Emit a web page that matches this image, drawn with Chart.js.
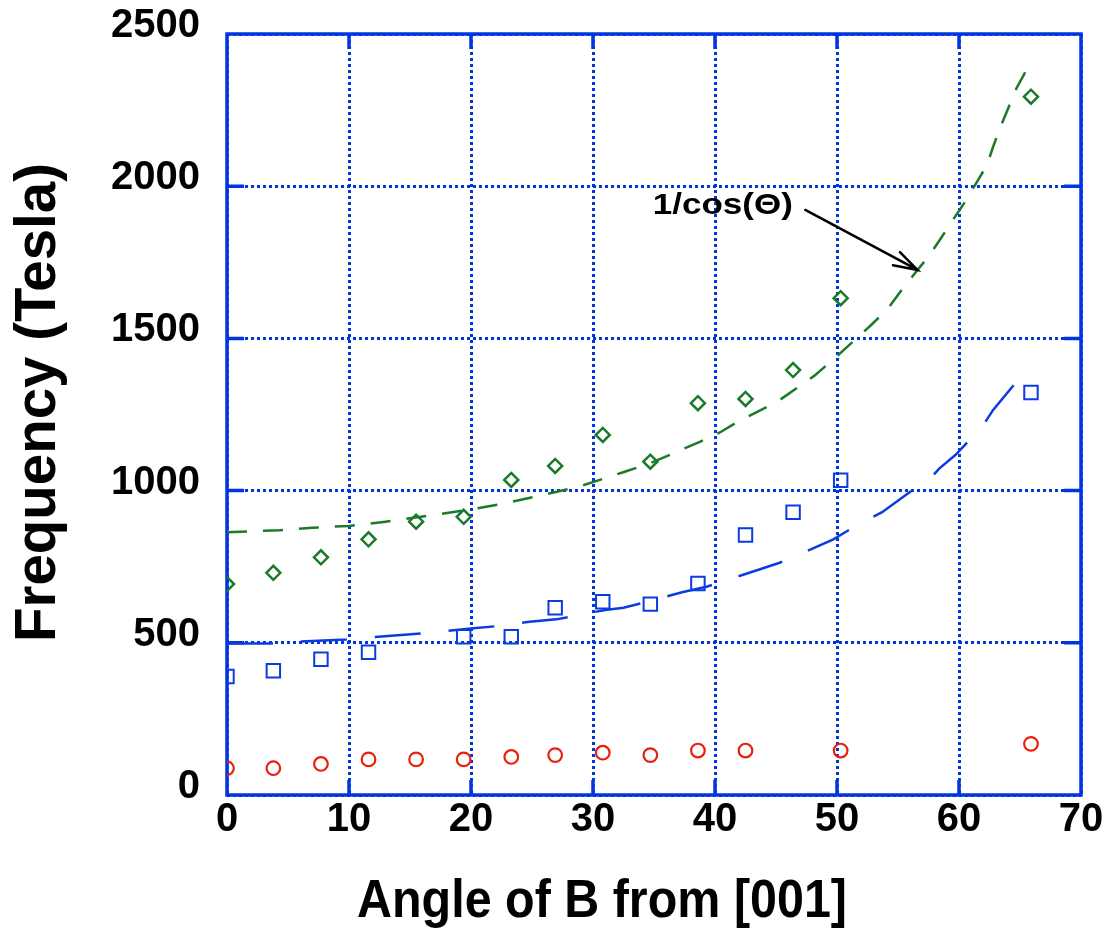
<!DOCTYPE html>
<html>
<head>
<meta charset="utf-8">
<title>Frequency vs angle of B</title>
<script src="https://cdn.jsdelivr.net/npm/chart.js@4.4.1/dist/chart.umd.min.js"></script>
<style>
  html, body { margin: 0; padding: 0; background: #fff; }
  #wrap { width: 1108px; height: 929px; }
</style>
</head>
<body>
<div id="wrap"><canvas id="freqChart"></canvas></div>
<script>
// values (angle in degrees, frequency in Tesla)
const redAngles = [0, 3.8, 7.7, 11.6, 15.5, 19.4, 23.3, 26.9, 30.8, 34.7, 38.6, 42.5, 50.3, 65.9];
const redFreq = [88, 88, 102, 117, 117, 117, 125, 131, 139, 131, 146, 146, 146, 168];

const blueAngles = [0, 3.8, 7.7, 11.6, 19.4, 23.3, 26.9, 30.8, 34.7, 38.6, 42.5, 46.4, 50.3, 65.9];
const blueFreq = [389, 408, 446, 469, 520, 520, 615, 635, 627, 695, 854, 929, 1034, 1322];

const greenAngles = [0, 3.8, 7.7, 11.6, 15.5, 19.4, 23.3, 26.9, 30.8, 34.7, 38.6, 42.5, 46.4, 50.3, 65.9];
const greenFreq = [693, 730, 781, 840, 898, 914, 1035, 1081, 1183, 1095, 1287, 1301, 1396, 1632, 2294];

// dashed 1/cos(theta) guide curves
const greenFitAngles = [0, 4.3, 7, 10, 13, 17, 20, 22.5, 26.5, 29, 32.6, 34.7, 38.8, 40.4, 41.9, 45.1, 48.1,
  49.8, 51.3, 52.8, 54.2, 55.3, 56.6, 57.6, 58.6, 59.5, 60.5, 61.4, 62.3, 62.8, 63.4, 64.2, 64.7, 65.3, 66];
const greenFitFreq = [863, 870, 878, 884, 898, 920, 938, 956, 991, 1015, 1062, 1090, 1161, 1191, 1227, 1292, 1376,
  1434, 1489, 1544, 1599, 1659, 1725, 1774, 1834, 1889, 1949, 2009, 2070, 2130, 2195, 2272, 2321, 2365, 2420];

const blueFitAngles = [0, 3.5, 6, 9.8, 12.4, 16.1, 20.2, 22.5, 24.8, 27, 28.8, 31, 32.5, 35, 37.3, 39.3, 41.2,
  43.5, 45.3, 47.4, 49.7, 51.9, 53.7, 56, 57.6, 58.4, 59.7, 61.9, 62.8, 64.6];
const blueFitFreq = [498, 498, 504, 511, 520, 531, 548, 556, 569, 577, 591, 608, 615, 641, 666, 684, 709,
  739, 763, 799, 840, 893, 929, 996, 1038, 1073, 1117, 1210, 1265, 1352];

const xTicks = [0, 10, 20, 30, 40, 50, 60, 70];
const yTicks = [0, 500, 1000, 1500, 2000, 2500];

// arrow label, in data units
const noteText = '1/cos(\u0398)';
const noteAt = { x: 34.9, y: 1909 };
const arrowFrom = { x: 47.4, y: 1922 };
const arrowTo = { x: 56.6, y: 1725 };

const FONT = "'Liberation Sans', Arial, Helvetica, sans-serif";
const FRAME = '#0035e0';
const RED = '#e8200c';
const BLUE = '#0a3ce0';
const GREEN = '#1b7a2a';

const pts = (xs, ys) => xs.map((x, i) => ({ x: x, y: ys[i] }));

function fitText(ctx, text, x, y, size, width, rot) {
    ctx.save();
    ctx.font = 'bold ' + size + 'px ' + FONT;
    const w = ctx.measureText(text).width;
    ctx.translate(x, y);
    if (rot) ctx.rotate(rot);
    ctx.scale(width / w, 1);
    ctx.fillStyle = '#000';
    ctx.textAlign = 'left';
    ctx.textBaseline = 'alphabetic';
    ctx.fillText(text, 0, 0);
    ctx.restore();
}

const framePlugin = {
    id: 'frame',
    beforeDatasetsDraw(chart) {
        const { ctx, chartArea: a, scales: { x, y } } = chart;
        ctx.save();
        ctx.strokeStyle = FRAME;
        ctx.lineWidth = 3.5;
        ctx.strokeRect(a.left, a.top, a.right - a.left, a.bottom - a.top);
        // inward tick marks on all four sides
        ctx.beginPath();
        xTicks.slice(1, -1).forEach(v => {
            const px = x.getPixelForValue(v);
            ctx.moveTo(px, a.bottom); ctx.lineTo(px, a.bottom - 15);
            ctx.moveTo(px, a.top); ctx.lineTo(px, a.top + 15);
        });
        yTicks.slice(1, -1).forEach(v => {
            const py = y.getPixelForValue(v);
            ctx.moveTo(a.left, py); ctx.lineTo(a.left + 17, py);
            ctx.moveTo(a.right, py); ctx.lineTo(a.right - 17, py);
        });
        ctx.stroke();
        ctx.restore();
    },
    afterDraw(chart) {
        const { ctx, scales: { x, y } } = chart;
        fitText(ctx, 'Frequency (Tesla)', 55, 642, 57, 479, -Math.PI / 2);
        fitText(ctx, 'Angle of B from [001]', 357, 917, 53, 490);
        fitText(ctx, noteText, x.getPixelForValue(noteAt.x), y.getPixelForValue(noteAt.y), 30, 140);

        const x0 = x.getPixelForValue(arrowFrom.x), y0 = y.getPixelForValue(arrowFrom.y);
        const x1 = x.getPixelForValue(arrowTo.x), y1 = y.getPixelForValue(arrowTo.y);
        const ang = Math.atan2(y1 - y0, x1 - x0);
        const head = 25, spread = 0.3;
        ctx.save();
        ctx.strokeStyle = '#000';
        ctx.lineWidth = 2.5;
        ctx.lineCap = 'round';
        ctx.beginPath();
        ctx.moveTo(x0, y0); ctx.lineTo(x1, y1);
        ctx.moveTo(x1 - head * Math.cos(ang - spread), y1 - head * Math.sin(ang - spread));
        ctx.lineTo(x1, y1);
        ctx.lineTo(x1 - head * Math.cos(ang + spread), y1 - head * Math.sin(ang + spread));
        ctx.stroke();
        ctx.restore();
    }
};

const ctx = document.getElementById('freqChart').getContext('2d');
new Chart(ctx, {
    type: 'scatter',
    data: {
        datasets: [
            {
                label: 'green fit',
                data: pts(greenFitAngles, greenFitFreq),
                showLine: true,
                borderColor: GREEN,
                borderWidth: 2.5,
                borderDash: [20, 16],
                pointRadius: 0,
                tension: 0
            },
            {
                label: 'blue fit',
                data: pts(blueFitAngles, blueFitFreq),
                showLine: true,
                borderColor: BLUE,
                borderWidth: 2.5,
                borderDash: [46, 28],
                pointRadius: 0,
                tension: 0
            },
            {
                label: 'green',
                data: pts(greenAngles, greenFreq),
                pointStyle: 'rectRot',
                pointRadius: 7,
                borderColor: GREEN,
                backgroundColor: 'rgba(0,0,0,0)',
                borderWidth: 2.5
            },
            {
                label: 'blue',
                data: pts(blueAngles, blueFreq),
                pointStyle: 'rect',
                pointRadius: 9.5,
                borderColor: BLUE,
                backgroundColor: 'rgba(0,0,0,0)',
                borderWidth: 2
            },
            {
                label: 'red',
                data: pts(redAngles, redFreq),
                pointStyle: 'circle',
                pointRadius: 6.8,
                borderColor: RED,
                backgroundColor: 'rgba(0,0,0,0)',
                borderWidth: 2.2
            }
        ]
    },
    options: {
        responsive: true,
        maintainAspectRatio: false,
        animation: false,
        events: [],
        layout: { padding: { top: 34, right: 27, left: 0, bottom: 0 } },
        plugins: {
            legend: { display: false },
            tooltip: { enabled: false }
        },
        scales: {
            x: {
                type: 'linear',
                min: 0,
                max: 70,
                afterFit: s => { s.height = 134; s.paddingLeft = 0; s.paddingRight = 0; },
                afterBuildTicks: s => { s.ticks = xTicks.map(v => ({ value: v })); },
                grid: { color: FRAME, lineWidth: 3, drawTicks: false },
                border: { display: false, dash: [3, 3] },
                ticks: {
                    autoSkip: false,
                    maxRotation: 0,
                    padding: 1,
                    color: '#000',
                    font: { family: FONT, size: 40, weight: 'bold' },
                    callback: v => String(v)
                }
            },
            y: {
                type: 'linear',
                min: 0,
                max: 2500,
                afterFit: s => { s.width = 227; s.paddingTop = 0; s.paddingBottom = 0; },
                afterBuildTicks: s => { s.ticks = yTicks.map(v => ({ value: v })); },
                grid: { color: FRAME, lineWidth: 3, drawTicks: false },
                border: { display: false, dash: [3, 3] },
                ticks: {
                    autoSkip: false,
                    padding: 27,
                    labelOffset: -8,
                    color: '#000',
                    font: { family: FONT, size: 40, weight: 'bold' },
                    callback: v => String(v)
                }
            }
        }
    },
    plugins: [framePlugin]
});
</script>
</body>
</html>
